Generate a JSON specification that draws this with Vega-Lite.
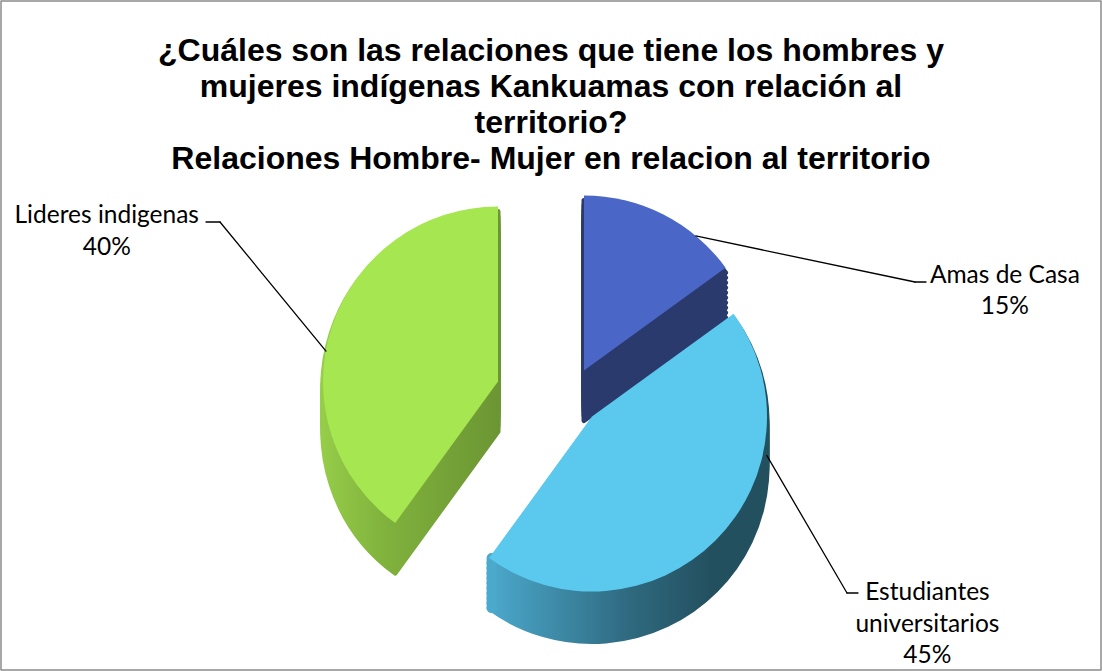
{
  "$schema": "https://vega.github.io/schema/vega-lite/v6.json",
  "width": 1100,
  "height": 669,
  "autosize": "none",
  "padding": {"left": 1, "top": 1, "right": 1, "bottom": 1},
  "background": "white",
  "config": {"view": {"stroke": null}, "mark": {"strokeJoin": "round"}},
  "title": {
    "text": [
      "¿Cuáles son las relaciones que tiene  los hombres y",
      "mujeres indígenas Kankuamas  con relación al",
      "territorio?",
      "Relaciones Hombre- Mujer en relacion al territorio"
    ],
    "font": "Liberation Sans",
    "fontSize": 32,
    "fontWeight": "bold",
    "color": "black",
    "lineHeight": 36,
    "anchor": "middle",
    "offset": -176
  },
  "data": {
    "values": [
      {"grupo": "Amas de Casa", "porcentaje": 15},
      {"grupo": "Estudiantes\nuniversitarios", "porcentaje": 45},
      {"grupo": "Lideres indigenas", "porcentaje": 40}
    ]
  },
  "transform": [
    {"stack": "porcentaje", "groupby": [], "as": ["v0", "v1"]},
    {"calculate": "(datum.v0 + datum.v1) / 2", "as": "mid"},
    {"calculate": "datum.grupo + '\\n' + datum.porcentaje + '%'", "as": "etiqueta"},
    {"calculate": "datum.porcentaje === 15 ? 'A' : datum.porcentaje === 45 ? 'E' : 'L'", "as": "k"}
  ],
  "layer": [
    {"transform": [{"filter": "datum.k === 'A'"}],
     "mark": {"type": "rect", "fill": "transparent", "stroke": "#8c8c8c", "strokeWidth": 1.5},
     "encoding": {}},
    {
      "encoding": {
        "theta": {"field": "v0", "type": "quantitative", "stack": null, "scale": {"domain": [0, 100]}},
        "theta2": {"field": "v1"}
      },
      "layer": [
        {"transform": [{"filter": "datum.k === 'L'"}], "mark": {"type": "arc", "radius": 175, "xOffset": -53, "yOffset": 96, "strokeWidth": 5, "stroke": {"gradient": "linear", "x1": 0, "y1": 0, "x2": 1, "y2": 0, "stops": [{"offset": 0, "color": "#95cc48"}, {"offset": 0.35, "color": "#80b23d"}, {"offset": 1, "color": "#6c9633"}]}, "fill": {"gradient": "linear", "x1": 0, "y1": 0, "x2": 1, "y2": 0, "stops": [{"offset": 0, "color": "#95cc48"}, {"offset": 0.35, "color": "#80b23d"}, {"offset": 1, "color": "#6c9633"}]}}},
        {"transform": [{"filter": "datum.k === 'L'"}], "mark": {"type": "arc", "radius": 175, "xOffset": -53, "yOffset": 91, "strokeWidth": 5, "stroke": {"gradient": "linear", "x1": 0, "y1": 0, "x2": 1, "y2": 0, "stops": [{"offset": 0, "color": "#95cc48"}, {"offset": 0.35, "color": "#80b23d"}, {"offset": 1, "color": "#6c9633"}]}, "fill": {"gradient": "linear", "x1": 0, "y1": 0, "x2": 1, "y2": 0, "stops": [{"offset": 0, "color": "#95cc48"}, {"offset": 0.35, "color": "#80b23d"}, {"offset": 1, "color": "#6c9633"}]}}},
        {"transform": [{"filter": "datum.k === 'L'"}], "mark": {"type": "arc", "radius": 175, "xOffset": -53, "yOffset": 86, "strokeWidth": 5, "stroke": {"gradient": "linear", "x1": 0, "y1": 0, "x2": 1, "y2": 0, "stops": [{"offset": 0, "color": "#95cc48"}, {"offset": 0.35, "color": "#80b23d"}, {"offset": 1, "color": "#6c9633"}]}, "fill": {"gradient": "linear", "x1": 0, "y1": 0, "x2": 1, "y2": 0, "stops": [{"offset": 0, "color": "#95cc48"}, {"offset": 0.35, "color": "#80b23d"}, {"offset": 1, "color": "#6c9633"}]}}},
        {"transform": [{"filter": "datum.k === 'L'"}], "mark": {"type": "arc", "radius": 175, "xOffset": -53, "yOffset": 81, "strokeWidth": 5, "stroke": {"gradient": "linear", "x1": 0, "y1": 0, "x2": 1, "y2": 0, "stops": [{"offset": 0, "color": "#95cc48"}, {"offset": 0.35, "color": "#80b23d"}, {"offset": 1, "color": "#6c9633"}]}, "fill": {"gradient": "linear", "x1": 0, "y1": 0, "x2": 1, "y2": 0, "stops": [{"offset": 0, "color": "#95cc48"}, {"offset": 0.35, "color": "#80b23d"}, {"offset": 1, "color": "#6c9633"}]}}},
        {"transform": [{"filter": "datum.k === 'L'"}], "mark": {"type": "arc", "radius": 175, "xOffset": -53, "yOffset": 76, "strokeWidth": 5, "stroke": {"gradient": "linear", "x1": 0, "y1": 0, "x2": 1, "y2": 0, "stops": [{"offset": 0, "color": "#95cc48"}, {"offset": 0.35, "color": "#80b23d"}, {"offset": 1, "color": "#6c9633"}]}, "fill": {"gradient": "linear", "x1": 0, "y1": 0, "x2": 1, "y2": 0, "stops": [{"offset": 0, "color": "#95cc48"}, {"offset": 0.35, "color": "#80b23d"}, {"offset": 1, "color": "#6c9633"}]}}},
        {"transform": [{"filter": "datum.k === 'L'"}], "mark": {"type": "arc", "radius": 175, "xOffset": -53, "yOffset": 71, "strokeWidth": 5, "stroke": {"gradient": "linear", "x1": 0, "y1": 0, "x2": 1, "y2": 0, "stops": [{"offset": 0, "color": "#95cc48"}, {"offset": 0.35, "color": "#80b23d"}, {"offset": 1, "color": "#6c9633"}]}, "fill": {"gradient": "linear", "x1": 0, "y1": 0, "x2": 1, "y2": 0, "stops": [{"offset": 0, "color": "#95cc48"}, {"offset": 0.35, "color": "#80b23d"}, {"offset": 1, "color": "#6c9633"}]}}},
        {"transform": [{"filter": "datum.k === 'L'"}], "mark": {"type": "arc", "radius": 175, "xOffset": -53, "yOffset": 66, "strokeWidth": 5, "stroke": {"gradient": "linear", "x1": 0, "y1": 0, "x2": 1, "y2": 0, "stops": [{"offset": 0, "color": "#95cc48"}, {"offset": 0.35, "color": "#80b23d"}, {"offset": 1, "color": "#6c9633"}]}, "fill": {"gradient": "linear", "x1": 0, "y1": 0, "x2": 1, "y2": 0, "stops": [{"offset": 0, "color": "#95cc48"}, {"offset": 0.35, "color": "#80b23d"}, {"offset": 1, "color": "#6c9633"}]}}},
        {"transform": [{"filter": "datum.k === 'L'"}], "mark": {"type": "arc", "radius": 175, "xOffset": -53, "yOffset": 61, "strokeWidth": 5, "stroke": {"gradient": "linear", "x1": 0, "y1": 0, "x2": 1, "y2": 0, "stops": [{"offset": 0, "color": "#95cc48"}, {"offset": 0.35, "color": "#80b23d"}, {"offset": 1, "color": "#6c9633"}]}, "fill": {"gradient": "linear", "x1": 0, "y1": 0, "x2": 1, "y2": 0, "stops": [{"offset": 0, "color": "#95cc48"}, {"offset": 0.35, "color": "#80b23d"}, {"offset": 1, "color": "#6c9633"}]}}},
        {"transform": [{"filter": "datum.k === 'L'"}], "mark": {"type": "arc", "radius": 175, "xOffset": -53, "yOffset": 56, "strokeWidth": 5, "stroke": {"gradient": "linear", "x1": 0, "y1": 0, "x2": 1, "y2": 0, "stops": [{"offset": 0, "color": "#95cc48"}, {"offset": 0.35, "color": "#80b23d"}, {"offset": 1, "color": "#6c9633"}]}, "fill": {"gradient": "linear", "x1": 0, "y1": 0, "x2": 1, "y2": 0, "stops": [{"offset": 0, "color": "#95cc48"}, {"offset": 0.35, "color": "#80b23d"}, {"offset": 1, "color": "#6c9633"}]}}},
        {"transform": [{"filter": "datum.k === 'L'"}], "mark": {"type": "arc", "radius": 175, "xOffset": -53, "yOffset": 51, "strokeWidth": 5, "stroke": {"gradient": "linear", "x1": 0, "y1": 0, "x2": 1, "y2": 0, "stops": [{"offset": 0, "color": "#95cc48"}, {"offset": 0.35, "color": "#80b23d"}, {"offset": 1, "color": "#6c9633"}]}, "fill": {"gradient": "linear", "x1": 0, "y1": 0, "x2": 1, "y2": 0, "stops": [{"offset": 0, "color": "#95cc48"}, {"offset": 0.35, "color": "#80b23d"}, {"offset": 1, "color": "#6c9633"}]}}},
        {"transform": [{"filter": "datum.k === 'L'"}], "mark": {"type": "arc", "radius": 175, "xOffset": -53, "yOffset": 46, "fill": "#a6e651"}},

        {"transform": [{"filter": "datum.k === 'A'"}], "mark": {"type": "arc", "radius": 175, "xOffset": 33, "yOffset": 85, "fill": "#2b3a6c", "stroke": "#2b3a6c", "strokeWidth": 5}},
        {"transform": [{"filter": "datum.k === 'A'"}], "mark": {"type": "arc", "radius": 175, "xOffset": 33, "yOffset": 80, "fill": "#2b3a6c", "stroke": "#2b3a6c", "strokeWidth": 5}},
        {"transform": [{"filter": "datum.k === 'A'"}], "mark": {"type": "arc", "radius": 175, "xOffset": 33, "yOffset": 75, "fill": "#2b3a6c", "stroke": "#2b3a6c", "strokeWidth": 5}},
        {"transform": [{"filter": "datum.k === 'A'"}], "mark": {"type": "arc", "radius": 175, "xOffset": 33, "yOffset": 70, "fill": "#2b3a6c", "stroke": "#2b3a6c", "strokeWidth": 5}},
        {"transform": [{"filter": "datum.k === 'A'"}], "mark": {"type": "arc", "radius": 175, "xOffset": 33, "yOffset": 65, "fill": "#2b3a6c", "stroke": "#2b3a6c", "strokeWidth": 5}},
        {"transform": [{"filter": "datum.k === 'A'"}], "mark": {"type": "arc", "radius": 175, "xOffset": 33, "yOffset": 60, "fill": "#2b3a6c", "stroke": "#2b3a6c", "strokeWidth": 5}},
        {"transform": [{"filter": "datum.k === 'A'"}], "mark": {"type": "arc", "radius": 175, "xOffset": 33, "yOffset": 55, "fill": "#2b3a6c", "stroke": "#2b3a6c", "strokeWidth": 5}},
        {"transform": [{"filter": "datum.k === 'A'"}], "mark": {"type": "arc", "radius": 175, "xOffset": 33, "yOffset": 50, "fill": "#2b3a6c", "stroke": "#2b3a6c", "strokeWidth": 5}},
        {"transform": [{"filter": "datum.k === 'A'"}], "mark": {"type": "arc", "radius": 175, "xOffset": 33, "yOffset": 45, "fill": "#2b3a6c", "stroke": "#2b3a6c", "strokeWidth": 5}},
        {"transform": [{"filter": "datum.k === 'A'"}], "mark": {"type": "arc", "radius": 175, "xOffset": 33, "yOffset": 40, "fill": "#2b3a6c", "stroke": "#2b3a6c", "strokeWidth": 5}},
        {"transform": [{"filter": "datum.k === 'A'"}], "mark": {"type": "arc", "radius": 175, "xOffset": 33, "yOffset": 35, "fill": "#4a66c6"}},

        {"transform": [{"filter": "datum.k === 'E'"}], "mark": {"type": "arc", "radius": 175, "xOffset": 41, "yOffset": 131, "strokeWidth": 5, "stroke": {"gradient": "linear", "x1": 0, "y1": 0, "x2": 1, "y2": 0, "stops": [{"offset": 0, "color": "#4ba9cc"}, {"offset": 0.5, "color": "#2f6a80"}, {"offset": 0.8, "color": "#23505f"}, {"offset": 1, "color": "#23505f"}]}, "fill": {"gradient": "linear", "x1": 0, "y1": 0, "x2": 1, "y2": 0, "stops": [{"offset": 0, "color": "#4ba9cc"}, {"offset": 0.5, "color": "#2f6a80"}, {"offset": 0.8, "color": "#23505f"}, {"offset": 1, "color": "#23505f"}]}}},
        {"transform": [{"filter": "datum.k === 'E'"}], "mark": {"type": "arc", "radius": 175, "xOffset": 41, "yOffset": 126, "strokeWidth": 5, "stroke": {"gradient": "linear", "x1": 0, "y1": 0, "x2": 1, "y2": 0, "stops": [{"offset": 0, "color": "#4ba9cc"}, {"offset": 0.5, "color": "#2f6a80"}, {"offset": 0.8, "color": "#23505f"}, {"offset": 1, "color": "#23505f"}]}, "fill": {"gradient": "linear", "x1": 0, "y1": 0, "x2": 1, "y2": 0, "stops": [{"offset": 0, "color": "#4ba9cc"}, {"offset": 0.5, "color": "#2f6a80"}, {"offset": 0.8, "color": "#23505f"}, {"offset": 1, "color": "#23505f"}]}}},
        {"transform": [{"filter": "datum.k === 'E'"}], "mark": {"type": "arc", "radius": 175, "xOffset": 41, "yOffset": 121, "strokeWidth": 5, "stroke": {"gradient": "linear", "x1": 0, "y1": 0, "x2": 1, "y2": 0, "stops": [{"offset": 0, "color": "#4ba9cc"}, {"offset": 0.5, "color": "#2f6a80"}, {"offset": 0.8, "color": "#23505f"}, {"offset": 1, "color": "#23505f"}]}, "fill": {"gradient": "linear", "x1": 0, "y1": 0, "x2": 1, "y2": 0, "stops": [{"offset": 0, "color": "#4ba9cc"}, {"offset": 0.5, "color": "#2f6a80"}, {"offset": 0.8, "color": "#23505f"}, {"offset": 1, "color": "#23505f"}]}}},
        {"transform": [{"filter": "datum.k === 'E'"}], "mark": {"type": "arc", "radius": 175, "xOffset": 41, "yOffset": 116, "strokeWidth": 5, "stroke": {"gradient": "linear", "x1": 0, "y1": 0, "x2": 1, "y2": 0, "stops": [{"offset": 0, "color": "#4ba9cc"}, {"offset": 0.5, "color": "#2f6a80"}, {"offset": 0.8, "color": "#23505f"}, {"offset": 1, "color": "#23505f"}]}, "fill": {"gradient": "linear", "x1": 0, "y1": 0, "x2": 1, "y2": 0, "stops": [{"offset": 0, "color": "#4ba9cc"}, {"offset": 0.5, "color": "#2f6a80"}, {"offset": 0.8, "color": "#23505f"}, {"offset": 1, "color": "#23505f"}]}}},
        {"transform": [{"filter": "datum.k === 'E'"}], "mark": {"type": "arc", "radius": 175, "xOffset": 41, "yOffset": 111, "strokeWidth": 5, "stroke": {"gradient": "linear", "x1": 0, "y1": 0, "x2": 1, "y2": 0, "stops": [{"offset": 0, "color": "#4ba9cc"}, {"offset": 0.5, "color": "#2f6a80"}, {"offset": 0.8, "color": "#23505f"}, {"offset": 1, "color": "#23505f"}]}, "fill": {"gradient": "linear", "x1": 0, "y1": 0, "x2": 1, "y2": 0, "stops": [{"offset": 0, "color": "#4ba9cc"}, {"offset": 0.5, "color": "#2f6a80"}, {"offset": 0.8, "color": "#23505f"}, {"offset": 1, "color": "#23505f"}]}}},
        {"transform": [{"filter": "datum.k === 'E'"}], "mark": {"type": "arc", "radius": 175, "xOffset": 41, "yOffset": 106, "strokeWidth": 5, "stroke": {"gradient": "linear", "x1": 0, "y1": 0, "x2": 1, "y2": 0, "stops": [{"offset": 0, "color": "#4ba9cc"}, {"offset": 0.5, "color": "#2f6a80"}, {"offset": 0.8, "color": "#23505f"}, {"offset": 1, "color": "#23505f"}]}, "fill": {"gradient": "linear", "x1": 0, "y1": 0, "x2": 1, "y2": 0, "stops": [{"offset": 0, "color": "#4ba9cc"}, {"offset": 0.5, "color": "#2f6a80"}, {"offset": 0.8, "color": "#23505f"}, {"offset": 1, "color": "#23505f"}]}}},
        {"transform": [{"filter": "datum.k === 'E'"}], "mark": {"type": "arc", "radius": 175, "xOffset": 41, "yOffset": 101, "strokeWidth": 5, "stroke": {"gradient": "linear", "x1": 0, "y1": 0, "x2": 1, "y2": 0, "stops": [{"offset": 0, "color": "#4ba9cc"}, {"offset": 0.5, "color": "#2f6a80"}, {"offset": 0.8, "color": "#23505f"}, {"offset": 1, "color": "#23505f"}]}, "fill": {"gradient": "linear", "x1": 0, "y1": 0, "x2": 1, "y2": 0, "stops": [{"offset": 0, "color": "#4ba9cc"}, {"offset": 0.5, "color": "#2f6a80"}, {"offset": 0.8, "color": "#23505f"}, {"offset": 1, "color": "#23505f"}]}}},
        {"transform": [{"filter": "datum.k === 'E'"}], "mark": {"type": "arc", "radius": 175, "xOffset": 41, "yOffset": 96, "strokeWidth": 5, "stroke": {"gradient": "linear", "x1": 0, "y1": 0, "x2": 1, "y2": 0, "stops": [{"offset": 0, "color": "#4ba9cc"}, {"offset": 0.5, "color": "#2f6a80"}, {"offset": 0.8, "color": "#23505f"}, {"offset": 1, "color": "#23505f"}]}, "fill": {"gradient": "linear", "x1": 0, "y1": 0, "x2": 1, "y2": 0, "stops": [{"offset": 0, "color": "#4ba9cc"}, {"offset": 0.5, "color": "#2f6a80"}, {"offset": 0.8, "color": "#23505f"}, {"offset": 1, "color": "#23505f"}]}}},
        {"transform": [{"filter": "datum.k === 'E'"}], "mark": {"type": "arc", "radius": 175, "xOffset": 41, "yOffset": 91, "strokeWidth": 5, "stroke": {"gradient": "linear", "x1": 0, "y1": 0, "x2": 1, "y2": 0, "stops": [{"offset": 0, "color": "#4ba9cc"}, {"offset": 0.5, "color": "#2f6a80"}, {"offset": 0.8, "color": "#23505f"}, {"offset": 1, "color": "#23505f"}]}, "fill": {"gradient": "linear", "x1": 0, "y1": 0, "x2": 1, "y2": 0, "stops": [{"offset": 0, "color": "#4ba9cc"}, {"offset": 0.5, "color": "#2f6a80"}, {"offset": 0.8, "color": "#23505f"}, {"offset": 1, "color": "#23505f"}]}}},
        {"transform": [{"filter": "datum.k === 'E'"}], "mark": {"type": "arc", "radius": 175, "xOffset": 41, "yOffset": 86, "strokeWidth": 5, "stroke": {"gradient": "linear", "x1": 0, "y1": 0, "x2": 1, "y2": 0, "stops": [{"offset": 0, "color": "#4ba9cc"}, {"offset": 0.5, "color": "#2f6a80"}, {"offset": 0.8, "color": "#23505f"}, {"offset": 1, "color": "#23505f"}]}, "fill": {"gradient": "linear", "x1": 0, "y1": 0, "x2": 1, "y2": 0, "stops": [{"offset": 0, "color": "#4ba9cc"}, {"offset": 0.5, "color": "#2f6a80"}, {"offset": 0.8, "color": "#23505f"}, {"offset": 1, "color": "#23505f"}]}}},
        {"transform": [{"filter": "datum.k === 'E'"}],
         "mark": {"type": "arc", "radius": 50, "radius2": 0, "xOffset": -59.4, "yOffset": 222.6, "thetaOffset": 0.7854, "theta2Offset": 0.7854, "fill": "transparent", "stroke": "#4ba9cc", "strokeWidth": 10, "strokeCap": "butt"},
         "encoding": {"theta": {"field": "mid", "type": "quantitative", "stack": null, "scale": {"domain": [0, 100]}}, "theta2": {"field": "mid"}}},
        {"transform": [{"filter": "datum.k === 'E'"}], "mark": {"type": "arc", "radius": 175, "xOffset": 41, "yOffset": 81, "fill": "#5bc9ee"}}
      ]
    },
    {
      "encoding": {
        "theta": {"field": "mid", "type": "quantitative", "stack": null, "scale": {"domain": [0, 100]}},
        "theta2": {"field": "mid"}
      },
      "layer": [
        {"transform": [{"filter": "datum.k === 'L'"}], "mark": {"type": "arc", "radius": 167, "radius2": 0, "xOffset": -331, "yOffset": -113.5, "thetaOffset": -2.5725, "theta2Offset": -2.5725, "fill": "transparent", "stroke": "black", "strokeWidth": 1.3}},
        {"transform": [{"filter": "datum.k === 'L'"}], "mark": {"type": "arc", "radius": 14, "radius2": 0, "xOffset": -331, "yOffset": -113.5, "thetaOffset": -0.3145, "theta2Offset": -0.3145, "fill": "transparent", "stroke": "black", "strokeWidth": 1.3}},
        {"transform": [{"filter": "datum.k === 'A'"}], "mark": {"type": "arc", "radius": 224, "radius2": 0, "xOffset": 364, "yOffset": -53.5, "thetaOffset": 4.4482, "theta2Offset": 4.4482, "fill": "transparent", "stroke": "black", "strokeWidth": 1.3}},
        {"transform": [{"filter": "datum.k === 'A'"}], "mark": {"type": "arc", "radius": 11, "radius2": 0, "xOffset": 364, "yOffset": -53.5, "thetaOffset": 1.0996, "theta2Offset": 1.0996, "fill": "transparent", "stroke": "black", "strokeWidth": 1.3}},
        {"transform": [{"filter": "datum.k === 'E'"}], "mark": {"type": "arc", "radius": 159, "radius2": 0, "xOffset": 296, "yOffset": 257.5, "thetaOffset": 3.399, "theta2Offset": 3.399, "fill": "transparent", "stroke": "black", "strokeWidth": 1.3}},
        {"transform": [{"filter": "datum.k === 'E'"}], "mark": {"type": "arc", "radius": 11, "radius2": 0, "xOffset": 296, "yOffset": 257.5, "thetaOffset": -0.785, "theta2Offset": -0.785, "fill": "transparent", "stroke": "black", "strokeWidth": 1.3}}
      ]
    },
    {
      "encoding": {
        "theta": {"field": "mid", "type": "quantitative", "stack": null, "scale": {"domain": [0, 100]}},
        "text": {"field": "etiqueta"}
      },
      "layer": [
        {"transform": [{"filter": "datum.k === 'L'"}], "mark": {"type": "text", "radius": 474, "thetaOffset": 0.042, "yOffset": 60, "dy": -14, "font": "Lato", "fontSize": 24.5, "lineHeight": 31.5, "lineBreak": "\n", "align": "center", "baseline": "middle", "color": "black"}},
        {"transform": [{"filter": "datum.k === 'A'"}], "mark": {"type": "text", "radius": 466, "thetaOffset": 0.871, "yOffset": 60, "dy": -14, "font": "Lato", "fontSize": 24.5, "lineHeight": 31.5, "lineBreak": "\n", "align": "center", "baseline": "middle", "color": "black"}},
        {"transform": [{"filter": "datum.k === 'E'"}], "mark": {"type": "text", "radius": 440, "thetaOffset": -0.241, "yOffset": 60, "dy": -30, "font": "Lato", "fontSize": 24.5, "lineHeight": 31.5, "lineBreak": "\n", "align": "center", "baseline": "middle", "color": "black"}}
      ]
    }
  ]
}
